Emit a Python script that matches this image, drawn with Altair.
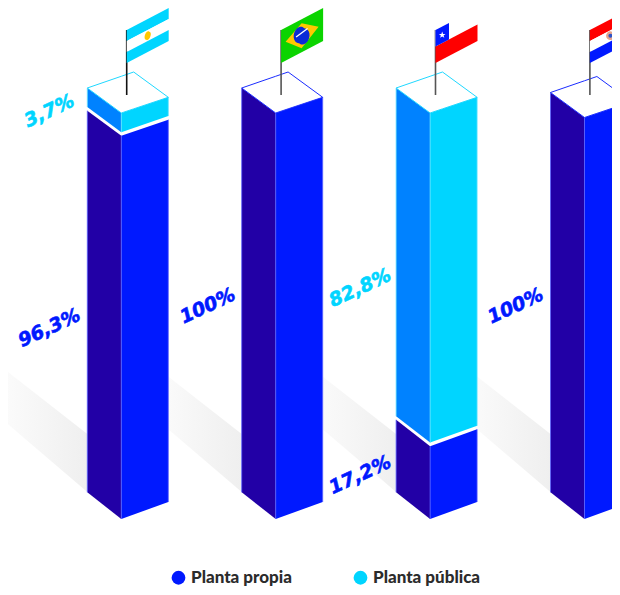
import altair as alt
import pandas as pd

# ---- values ----
countries = ["Argentina", "Brasil", "Chile", "Paraguay"]
propia = [96.3, 100.0, 17.2, 100.0]
publica = [3.7, 0.0, 82.8, 0.0]
label_propia = ["96,3%", "100%", "17,2%", "100%"]
label_publica = ["3,7%", "", "82,8%", ""]
column_height = [406, 406, 406, 401.5]
poles = ["#111111", "#555555", "#555555", "#555555"]

series = ["Planta propia", "Planta pública"]
FRONT = ["#0019ff", "#00d5ff"]
SIDE = ["#2200a6", "#0082ff"]
EDGE = ["#5a62ff", "#66e4ff"]
TOPLINE = ["#1a2cff", "#1fd8ff"]

# ---- isometric projection constants ----
X0, STEP = 87.3, 154.4
FRONT_DX, RIGHT_DX, BACK_DX = 34.0, 81.0, 46.4
BASE_Y = 519.0
PX_PER_PCT, GAP = 3.98, 3.6
LBL_X = [-38, -34, -36, -35]
LBL_P_Y = [328, 306, 475, 306]
LBL_C_Y = [111, None, 288, None]


def off_l(h):
    return -26.7 + 1.7 * min(h, 406) / 406


def off_r(h):
    return -17.0 + 1.0 * min(h, 406) / 406


sides, fronts, tops, shadows, rules, labels, pole_rows = [], [], [], [], [], [], []


def add_face(i, s, h0, h1, name):
    x = X0 + STEP * i
    xm = x + FRONT_DX
    xr = x + RIGHT_DX
    y0, y1 = BASE_Y - h0, BASE_Y - h1
    for px, a, b in [(x, y1 + off_l(h1), y0 + off_l(h0)), (xm, y1, y0)]:
        sides.append(dict(poly=name, x=px, y=a, y2=b, fill=SIDE[s]))
    for px, a, b in [(xm, y1, y0), (xr, y1 + off_r(h1), y0 + off_r(h0))]:
        fronts.append(dict(poly=name, x=px, y=a, y2=b, series=series[s]))
    rules.append(dict(x=x, y=y1 + off_l(h1), y2=y0 + off_l(h0), c=EDGE[s]))
    rules.append(dict(x=xm, y=y1, y2=y0, c=EDGE[s]))
    rules.append(dict(x=xr, y=y1 + off_r(h1), y2=y0 + off_r(h0), c=EDGE[s]))


for i, c in enumerate(countries):
    H = column_height[i]
    x = X0 + STEP * i
    # shadow on the floor
    shadows.append(dict(poly=c, x=x - 110, y=434 - 86, y2=492 - 94))
    shadows.append(dict(poly=c, x=x, y=434, y2=492))
    # two stacked segments: the larger share sets the scale, the smaller fills the rest
    if publica[i] == 0:
        add_face(i, 0, 0, H, c + "p")
        top_s = 0
    elif propia[i] >= publica[i]:
        hp = propia[i] * PX_PER_PCT
        add_face(i, 0, 0, hp, c + "p")
        add_face(i, 1, hp + GAP, H, c + "c")
        top_s = 1
    else:
        hc = publica[i] * PX_PER_PCT
        hp = H - hc - GAP
        add_face(i, 0, 0, hp, c + "p")
        add_face(i, 1, hp + GAP, H, c + "c")
        top_s = 1
    # top face
    t = BASE_Y - H
    ly, ry, by = t - 25.0, t - 15.7, t - 41.0
    xm = x + FRONT_DX
    xb = x + BACK_DX
    xr = x + RIGHT_DX
    up_at_m = ly + (by - ly) * FRONT_DX / BACK_DX
    low_at_b = t + (ry - t) * (BACK_DX - FRONT_DX) / (RIGHT_DX - FRONT_DX)
    for px, a, b in [(x, ly, ly), (xm, up_at_m, t), (xb, by, low_at_b), (xr, ry, ry)]:
        tops.append(dict(poly=c, x=px, y=a, y2=b, line=TOPLINE[top_s]))
    # pole
    pole_rows.append(dict(x=x + 39.4, y=30, y2=95, c=poles[i]))
    # percent labels
    labels.append(dict(x=x + LBL_X[i], y=LBL_P_Y[i], t=label_propia[i], c=FRONT[0]))
    if label_publica[i]:
        labels.append(dict(x=x + LBL_X[i], y=LBL_C_Y[i], t=label_publica[i], c=FRONT[1]))

# ---- flags ----
FLAG_W, FLAG_H, FLAG_RISE = 42.0, 33.0, 22.0
flag_bands = {
    "Argentina": [("#00d5ff", 0, 1 / 3), ("#ffffff", 1 / 3, 2 / 3), ("#00d5ff", 2 / 3, 1)],
    "Brasil": [("#0bd400", 0, 1)],
    "Chile": [("#ffffff", 0, 0.5), ("#ff0000", 0.5, 1)],
    "Paraguay": [("#ff0000", 0, 1 / 3), ("#ffffff", 1 / 3, 2 / 3), ("#0019ff", 2 / 3, 1)],
}
flags = []
for i, c in enumerate(countries):
    fx = X0 + STEP * i + 39.4
    for k, (col, a, b) in enumerate(flag_bands[c]):
        nm = f"{c}{k}"
        flags.append(dict(poly=nm, x=fx, y=30 + a * FLAG_H, y2=30 + b * FLAG_H, fill=col))
        flags.append(dict(poly=nm, x=fx + FLAG_W, y=30 - FLAG_RISE + a * FLAG_H,
                          y2=30 - FLAG_RISE + b * FLAG_H, fill=col))

bx = X0 + STEP + 39.4
ch = X0 + STEP * 2 + 39.4
flag_extra = [
    dict(poly="diamond", x=bx + 4.5, y=41.7, y2=41.7, fill="#ffc800"),
    dict(poly="diamond", x=bx + 20.5, y=23.3, y2=48.3, fill="#ffc800"),
    dict(poly="diamond", x=bx + 37.5, y=26.7, y2=26.7, fill="#ffc800"),
    dict(poly="canton", x=ch, y=30, y2=46.5, fill="#0019ff"),
    dict(poly="canton", x=ch + 13.5, y=23, y2=39.5, fill="#0019ff"),
]

ELLIPSE = "M-0.35,0.9 A0.5,1 20 1 1 0.35,-0.9 A0.5,1 20 1 1 -0.35,0.9 Z"
GLOBE = "M-0.3,0.9 A0.72,1 15 1 1 0.3,-0.9 A0.72,1 15 1 1 -0.3,0.9 Z"
STAR = ("M0,-1 L0.24,-0.31 L0.95,-0.31 L0.38,0.12 L0.59,0.81 L0,0.4 "
        "L-0.59,0.81 L-0.38,0.12 L-0.95,-0.31 L-0.24,-0.31 Z")
emblems = [
    dict(x=X0 + 39.4 + 21, y=35.7, c="#ffc800", shape=ELLIPSE, size=80),
    dict(x=bx + 20.5, y=35.7, c="#0a2bd8", shape=GLOBE, size=280),
    dict(x=ch + 6.7, y=35, c="#ffffff", shape=STAR, size=50),
    dict(x=X0 + STEP * 3 + 39.4 + 20.5, y=35.7, c="#e8a48c", shape="circle", size=75),
    dict(x=X0 + STEP * 3 + 39.4 + 20.5, y=35.7, c="#2f55c8", shape="circle", size=16),
]
band = [dict(x=bx + 15, x2=bx + 26.5, y=37, y2=28.5)]

xs = alt.X("x:Q", axis=None, scale=alt.Scale(domain=[8, 612], nice=False, zero=False))
ys = alt.Y("y:Q", axis=None, scale=alt.Scale(domain=[587, 8], nice=False, zero=False))
y2 = alt.Y2("y2:Q")


def D(rows):
    return alt.Data(values=pd.DataFrame(rows).to_dict("records"))


gradient = alt.LinearGradient(
    gradient="linear", x1=0, x2=1, y1=0, y2=0,
    stops=[alt.GradientStop(color="#ffffff", offset=0), alt.GradientStop(color="#efefef", offset=1)],
)

shadow_l = alt.Chart(D(shadows)).mark_area(orient="vertical", color=gradient, clip=True).encode(
    x=xs, y=ys, y2=y2, detail="poly:N")

side_l = alt.Chart(D(sides)).mark_area(orient="vertical", clip=True).encode(
    x=xs, y=ys, y2=y2, detail="poly:N", fill=alt.Fill("fill:N", scale=None))

front_l = alt.Chart(D(fronts)).mark_area(orient="vertical", clip=True).encode(
    x=xs, y=ys, y2=y2, detail="poly:N",
    color=alt.Color(
        "series:N",
        scale=alt.Scale(domain=series, range=FRONT),
        legend=alt.Legend(
            title=None, orient="none", legendX=162, legendY=561, direction="horizontal",
            columns=2, columnPadding=60, symbolType="circle", symbolSize=190,
            symbolStrokeWidth=0, labelFont="Lato", labelFontWeight=900, labelFontSize=17,
            labelColor="#2b2b2b", labelOffset=4, labelLimit=200,
        ),
    ),
)

edge_l = alt.Chart(D(rules)).mark_rule(strokeWidth=0.8, clip=True).encode(
    x=xs, y=ys, y2=y2, stroke=alt.Stroke("c:N", scale=None))

top_l = alt.Chart(D(tops)).mark_area(orient="vertical", fill="#ffffff", strokeWidth=1, clip=True).encode(
    x=xs, y=ys, y2=y2, detail="poly:N", stroke=alt.Stroke("line:N", scale=None))

pole_l = alt.Chart(D(pole_rows)).mark_rule(strokeWidth=1.6).encode(
    x=xs, y=ys, y2=y2, stroke=alt.Stroke("c:N", scale=None))

flag_l = alt.Chart(D(flags)).mark_area(orient="vertical", clip=True).encode(
    x=xs, y=ys, y2=y2, detail="poly:N", fill=alt.Fill("fill:N", scale=None))

extra_l = alt.Chart(D(flag_extra)).mark_area(orient="vertical").encode(
    x=xs, y=ys, y2=y2, detail="poly:N", fill=alt.Fill("fill:N", scale=None))

emblem_layers = [
    alt.Chart(D([e])).mark_point(filled=True, opacity=1, shape=e["shape"], size=e["size"],
                                 fill=e["c"], strokeWidth=0).encode(x=xs, y=ys)
    for e in emblems
]

band_l = alt.Chart(D(band)).mark_rule(strokeWidth=1.3, color="#ffffff").encode(
    x=xs, x2="x2:Q", y=ys, y2=y2)

label_l = alt.Chart(D(labels)).mark_text(
    angle=335, font="DejaVu Sans", fontWeight="bold", fontStyle="oblique", fontSize=19,
    align="center", baseline="middle", strokeWidth=0.6,
).encode(x=xs, y=ys, text="t:N", fill=alt.Fill("c:N", scale=None), stroke=alt.Stroke("c:N", scale=None))

chart = alt.layer(
    shadow_l, side_l, front_l, edge_l, top_l, pole_l, flag_l, extra_l,
    *emblem_layers, band_l, label_l,
).properties(
    width=604, height=579, padding=0,
    autosize=alt.AutoSizeParams(type="none"),
).configure_view(stroke=None)

chart.save("out.html", embed_options={"renderer": "svg", "actions": False})
